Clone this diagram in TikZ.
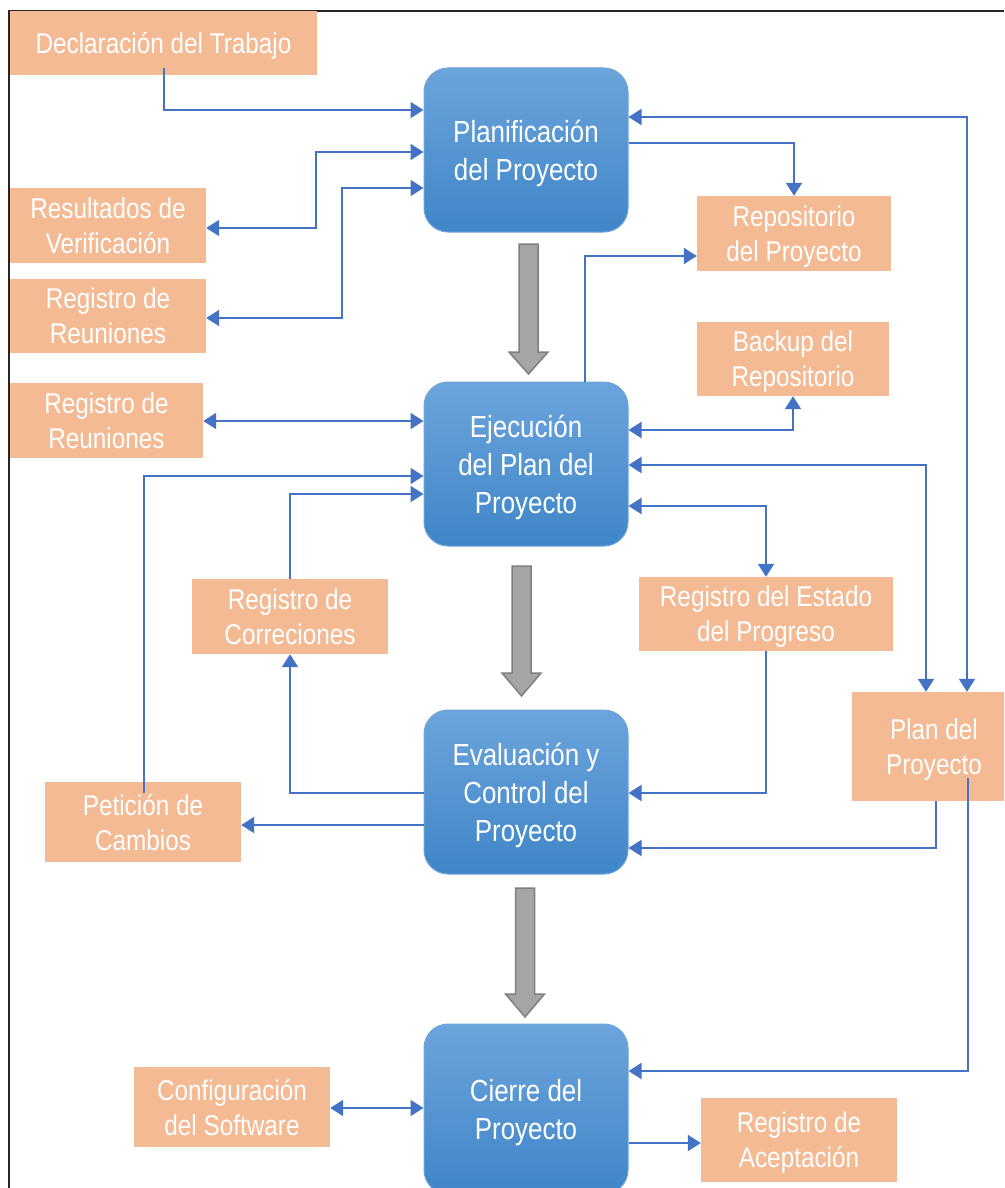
\documentclass[tikz,border=0pt]{standalone}
\usepackage{fontspec}
\setmainfont{Liberation Sans}[FakeStretch=0.85]
\usetikzlibrary{arrows.meta}
\definecolor{boxorange}{HTML}{F4BA94}
\definecolor{linkblue}{HTML}{4472C4}
\definecolor{phasetop}{HTML}{6CA4DC}
\definecolor{phasebot}{HTML}{3F86C8}
\definecolor{phaseedge}{HTML}{6FA5DA}
\definecolor{arrowgray}{HTML}{A5A5A5}
\definecolor{arrowedge}{HTML}{7F7F7F}
\begin{document}
\begin{tikzpicture}[x=1pt,y=-1pt,
  phase/.style={rounded corners=24pt, top color=phasetop, bottom color=phasebot,
    draw=phaseedge, line width=1pt, text=white, align=center, inner sep=0pt,
    text depth=0pt,
    minimum width=204pt, minimum height=164pt, font=\fontsize{30.5}{38}\selectfont},
  doc/.style={fill=boxorange, text=white, align=center, inner sep=0pt,
    text depth=0pt, font=\fontsize{28.6}{35}\selectfont},
  link/.style={draw=linkblue, line width=2pt, -{Triangle[length=13pt,width=16pt]}},
  both/.style={draw=linkblue, line width=2pt,
    {Triangle[length=13pt,width=16pt]}-{Triangle[length=13pt,width=16pt]}},
  garrow/.style={fill=arrowgray, draw=arrowedge, line width=1.5pt, line join=miter},
  pics/phasearrow/.style args={#1/#2}{code={
    \draw[garrow] (-9.5,0) -- (9.5,0) -- (9.5,#1) -- (19.5,#1) -- (0,#2)
      -- (-19.5,#1) -- (-9.5,#1) -- cycle;}}
]
\path[use as bounding box] (0,0) rectangle (1004,1188);
\clip (0,0) rectangle (1004,1188);

% outer frame
\draw[line width=1.5pt, black!85] (9,1188) -- (9,11) -- (1004,11);

% project phases
\node[phase] (plan) at (526,150) {Planificación\\del Proyecto};
\node[phase] (ejec) at (526,464) {Ejecución\\del Plan del\\Proyecto};
\node[phase] (eval) at (526,792) {Evaluación y\\Control del\\Proyecto};
\node[phase, minimum height=170pt] (cierre) at (526,1109) {Cierre del\\Proyecto};

% flow between phases
\pic at (528.5,244) {phasearrow={108/130}};
\pic at (521.5,566) {phasearrow={107/130}};
\pic at (525,888) {phasearrow={106/129}};

% documents
\node[doc, minimum width=307pt, minimum height=64pt] (decl) at (163.5,43) {Declaración del Trabajo};
\node[doc, minimum width=196pt, minimum height=75pt] (resul) at (108,225.5) {Resultados de\\Verificación};
\node[doc, minimum width=196pt, minimum height=74pt] (reun1) at (108,316) {Registro de\\Reuniones};
\node[doc, minimum width=193pt, minimum height=75pt] (reun2) at (106.5,420.5) {Registro de\\Reuniones};
\node[doc, minimum width=196pt, minimum height=75pt] (corr) at (290,616.5) {Registro de\\Correciones};
\node[doc, minimum width=196pt, minimum height=80pt] (peti) at (143,822) {Petición de\\Cambios};
\node[doc, minimum width=194pt, minimum height=75pt] (repo) at (794,233.5) {Repositorio\\del Proyecto};
\node[doc, minimum width=192pt, minimum height=74pt] (backup) at (793,359) {Backup del\\Repositorio};
\node[doc, minimum width=254pt, minimum height=74pt] (estado) at (766,614) {Registro del Estado\\del Progreso};
\node[doc, minimum width=164pt, minimum height=109pt] (plandoc) at (934,746.5) {Plan del\\Proyecto};
\node[doc, minimum width=196pt, minimum height=80pt] (config) at (232,1107) {Configuración\\del Software};
\node[doc, minimum width=196pt, minimum height=84pt] (acep) at (799,1140) {Registro de\\Aceptación};

% tails that start inside a box
\path (plandoc.south -| 968,0) ++(0,-23) coordinate (pdtail);
\path (peti.north -| 144,0) ++(0,11) coordinate (petail);
\path (decl.south) ++(0,-7) coordinate (dectail);

% planning
\draw[link] (dectail) |- (plan.west |- 0,110);
\draw[both] (plan.west |- 0,152) -| (316,228) -- (resul.east |- 0,228);
\draw[both] (plan.west |- 0,188) -| (342,318) -- (reun1.east |- 0,318);
\draw[link] (plan.east |- 0,143) -| (repo.north);
\draw[both] (plan.east |- 0,117) -| (plandoc.north -| 967,0);

% execution
\draw[link] (ejec.north -| 585,0) |- (repo.west |- 0,256);
\draw[both] (ejec.east |- 0,430) -| (backup.south);
\draw[both] (ejec.east |- 0,465) -| (plandoc.north -| 926,0);
\draw[both] (ejec.east |- 0,506) -| (estado.north);
\draw[both] (reun2.east |- 0,421) -- (ejec.west |- 0,421);
\draw[link] (petail) |- (ejec.west |- 0,476);
\draw[link] (corr.north) |- (ejec.west |- 0,494);

% evaluation and control
\draw[link] (estado.south) |- (eval.east |- 0,793);
\draw[link] (plandoc.south -| 936,0) |- (eval.east |- 0,848);
\draw[link] (eval.west |- 0,793) -| (corr.south);
\draw[link] (eval.west |- 0,825) -- (peti.east |- 0,825);

% closing
\draw[link] (pdtail) |- (cierre.east |- 0,1071);
\draw[both] (config.east |- 0,1108) -- (cierre.west |- 0,1108);
\draw[link] (cierre.east |- 0,1143) -- (acep.west |- 0,1143);
\end{tikzpicture}
\end{document}
